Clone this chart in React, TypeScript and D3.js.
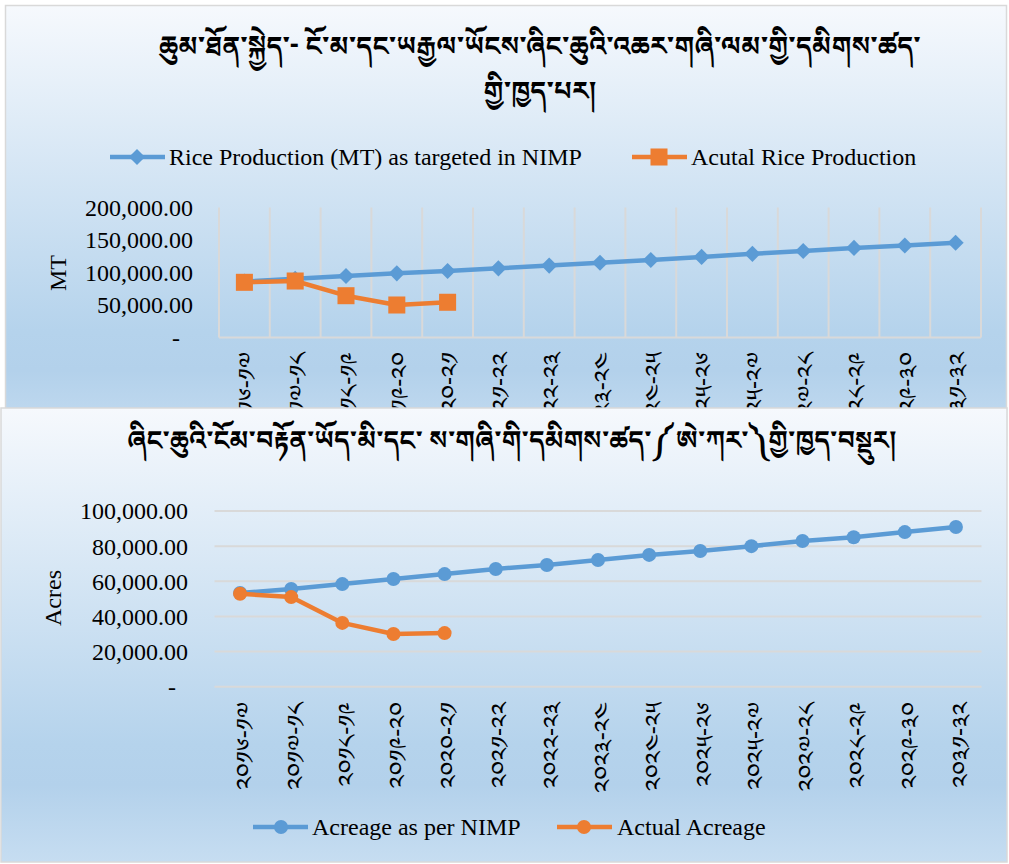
import React from "react";
import * as d3 from "d3";

const years = [
  "༢༠༡༦-༡༧", "༢༠༡༧-༡༨", "༢༠༡༨-༡༩", "༢༠༡༩-༢༠", "༢༠༢༠-༢༡",
  "༢༠༢༡-༢༢", "༢༠༢༢-༢༣", "༢༠༢༣-༢༤", "༢༠༢༤-༢༥", "༢༠༢༥-༢༦",
  "༢༠༢༥-༢༧", "༢༠༢༧-༢༨", "༢༠༢༨-༢༩", "༢༠༢༩-༣༠", "༢༠༣༡-༣༢",
];
const riceTarget = [86000, 90300, 94600, 98700, 102300, 106400, 110600, 115000, 119200, 124000, 128700, 133100, 137800, 141600, 145800];
const riceActual = [84900, 86900, 64300, 50000, 54200];
const riceTicks = [0, 50000, 100000, 150000, 200000];

const acreTarget = [53300, 55600, 58400, 61300, 64100, 67000, 69300, 72100, 75000, 77200, 80000, 82900, 85100, 88000, 90900];
const acreActual = [52900, 51000, 36300, 30000, 30500];
const acreTicks = [0, 20000, 40000, 60000, 80000, 100000];

const title1a = "ཆུམ་ཐོན་སྐྱེད་-  ངོ་མ་དང་ཡརྒྱལ་ཡོངས་ཞིང་ཆུའི་འཆར་གཞི་ལམ་གྱི་དམིགས་ཚད་";
const title1b = "གྱི་ཁྱད་པར།";
const title2 = "ཞིང་ཆུའི་ངོམ་བརྟོན་ཡོད་མི་དང་  ས་གཞི་གི་དམིགས་ཚད་༼ཨེ་ཀར་༽གྱི་ཁྱད་བསྡུར།";
const legend1 = ["Rice Production (MT) as targeted in NIMP", "Acutal Rice Production"];
const legend2 = ["Acreage as per NIMP", "Actual Acreage"];

const BLUE = "#5b9bd5";
const ORANGE = "#ed7d31";
const GRID = "#d9d9d9";
const SERIF = "'Liberation Serif', 'Times New Roman', serif";
const TIB = "'Noto Serif Tibetan', 'Microsoft Himalaya', 'Jomolhari', 'Noto Sans', serif";

const fmt = (v: number) => (v === 0 ? "-" : d3.format(",.2f")(v));

function Grad({ id }: { id: string }) {
  return (
    <linearGradient id={id} x1="0" y1="0" x2="0" y2="1">
      <stop offset="0%" stopColor="#f6f9fd" />
      <stop offset="74%" stopColor="#b5d3ec" />
      <stop offset="83%" stopColor="#b3d1eb" />
      <stop offset="100%" stopColor="#c6ddf1" />
    </linearGradient>
  );
}

function TopChart() {
  const x = d3.scaleBand<string>().domain(years).range([219, 981]);
  const y = d3.scaleLinear().domain([0, 200000]).range([337.5, 207.5]);
  const cx = (i: number) => (x(years[i]) as number) + x.bandwidth() / 2;
  const line = d3.line<number>().x((_, i) => cx(i)).y((d) => y(d));
  const diamond = d3.symbol().type(d3.symbolSquare).size(130)();
  const square = d3.symbol().type(d3.symbolSquare).size(290)();
  const bounds = d3.range(years.length + 1).map((i) => 219 + i * x.bandwidth());
  return (
    <g>
      <rect x={5.5} y={5.5} width={1001} height={440} fill="url(#g1)" stroke={GRID} strokeWidth={1.5} />
      <text x={540} y={55} textAnchor="middle" fontFamily={TIB} fontSize={26.5} fontWeight="bold" fill="#000">{title1a}</text>
      <text x={540} y={100} textAnchor="middle" fontFamily={TIB} fontSize={26.5} fontWeight="bold" fill="#000">{title1b}</text>
      {/* legend */}
      <g>
        <line x1={110} x2={165} y1={157} y2={157} stroke={BLUE} strokeWidth={4.5} />
        <path d={diamond} transform="translate(137,157) rotate(45)" fill={BLUE} />
        <text x={169} y={157} dy="0.33em" fontFamily={SERIF} fontSize={24}>{legend1[0]}</text>
        <line x1={632} x2={687} y1={157} y2={157} stroke={ORANGE} strokeWidth={4.5} />
        <path d={square} transform="translate(659,157)" fill={ORANGE} />
        <text x={691} y={157} dy="0.33em" fontFamily={SERIF} fontSize={24}>{legend1[1]}</text>
      </g>
      {bounds.map((b, i) => (
        <line key={i} x1={b} x2={b} y1={y(200000)} y2={y(0)} stroke={GRID} strokeWidth={2} />
      ))}
      <line x1={219} x2={981} y1={y(0)} y2={y(0)} stroke={GRID} strokeWidth={2} />
      {riceTicks.map((t) => (
        <text key={t} x={t === 0 ? 180 : 193} y={y(t)} dy="0.35em" textAnchor="end" fontFamily={SERIF} fontSize={24}>{fmt(t)}</text>
      ))}
      <text transform="translate(58,273) rotate(-90)" textAnchor="middle" dy="0.35em" fontFamily={SERIF} fontSize={24}>MT</text>
      {years.map((yr, i) => (
        <text key={yr} transform={`translate(${cx(i) + 3},352) rotate(-90)`} textAnchor="end" dy="0.35em" fontFamily={TIB} fontSize={25}>{yr}</text>
      ))}
      <path d={line(riceTarget) as string} fill="none" stroke={BLUE} strokeWidth={4.5} strokeLinejoin="round" />
      {riceTarget.map((v, i) => (
        <path key={i} d={diamond} transform={`translate(${cx(i)},${y(v)}) rotate(45)`} fill={BLUE} />
      ))}
      <path d={line(riceActual) as string} fill="none" stroke={ORANGE} strokeWidth={4.5} strokeLinejoin="round" />
      {riceActual.map((v, i) => (
        <path key={i} d={square} transform={`translate(${cx(i)},${y(v)})`} fill={ORANGE} />
      ))}
    </g>
  );
}

function BottomChart() {
  const x = d3.scaleBand<string>().domain(years).range([214.5, 981.5]);
  const y = d3.scaleLinear().domain([0, 100000]).range([686.7, 511]);
  const cx = (i: number) => (x(years[i]) as number) + x.bandwidth() / 2;
  const line = d3.line<number>().x((_, i) => cx(i)).y((d) => y(d));
  return (
    <g>
      <rect x={1} y={408} width={1006} height={454} fill="url(#g2)" stroke={GRID} strokeWidth={1.5} />
      <text x={512} y={449} textAnchor="middle" fontFamily={TIB} fontSize={26} fontWeight="bold" fill="#000">{title2}</text>
      {acreTicks.map((t) => (
        <g key={t}>
          <line x1={214.5} x2={981.5} y1={y(t)} y2={y(t)} stroke={GRID} strokeWidth={2} />
          <text x={t === 0 ? 176 : 188} y={y(t)} dy="0.35em" textAnchor="end" fontFamily={SERIF} fontSize={24}>{fmt(t)}</text>
        </g>
      ))}
      <text transform="translate(53,598) rotate(-90)" textAnchor="middle" dy="0.35em" fontFamily={SERIF} fontSize={24}>Acres</text>
      {years.map((yr, i) => (
        <text key={yr} transform={`translate(${cx(i) + 5},702) rotate(-90)`} textAnchor="end" dy="0.35em" fontFamily={TIB} fontSize={25}>{yr}</text>
      ))}
      <path d={line(acreTarget) as string} fill="none" stroke={BLUE} strokeWidth={4.5} strokeLinejoin="round" />
      {acreTarget.map((v, i) => (
        <circle key={i} cx={cx(i)} cy={y(v)} r={7} fill={BLUE} />
      ))}
      <path d={line(acreActual) as string} fill="none" stroke={ORANGE} strokeWidth={4.5} strokeLinejoin="round" />
      {acreActual.map((v, i) => (
        <circle key={i} cx={cx(i)} cy={y(v)} r={7} fill={ORANGE} />
      ))}
      <g>
        <line x1={253} x2={308} y1={827} y2={827} stroke={BLUE} strokeWidth={4.5} />
        <circle cx={281} cy={827} r={7} fill={BLUE} />
        <text x={312} y={827} dy="0.33em" fontFamily={SERIF} fontSize={24}>{legend2[0]}</text>
        <line x1={557} x2={612} y1={827} y2={827} stroke={ORANGE} strokeWidth={4.5} />
        <circle cx={584} cy={827} r={7} fill={ORANGE} />
        <text x={617} y={827} dy="0.33em" fontFamily={SERIF} fontSize={24}>{legend2[1]}</text>
      </g>
    </g>
  );
}

export default function App() {
  return (
    <div style={{ position: "absolute", left: 0, top: 0 }}>
      <svg width={1009} height={864} style={{ display: "block" }}>
        <defs>
          <Grad id="g1" />
          <Grad id="g2" />
        </defs>
        <rect width={1009} height={864} fill="#ffffff" />
        <TopChart />
        <BottomChart />
      </svg>
    </div>
  );
}
